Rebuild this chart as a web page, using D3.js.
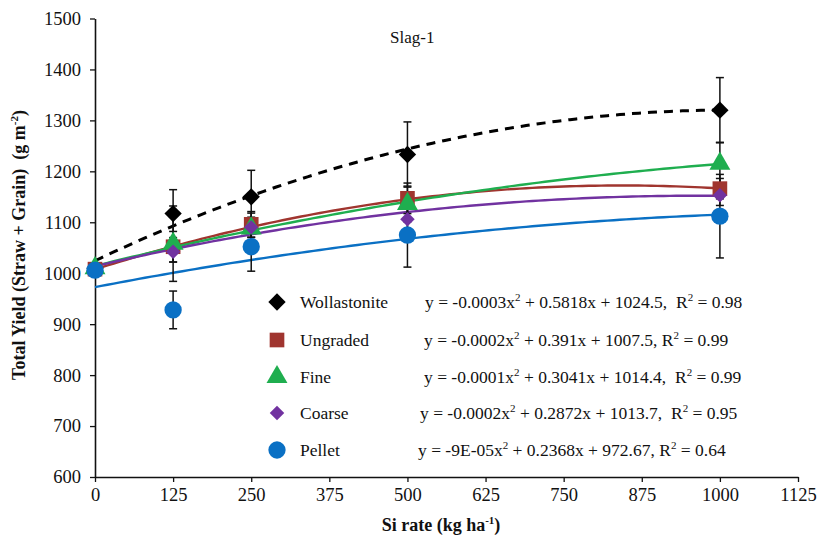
<!DOCTYPE html>
<html>
<head>
<meta charset="utf-8">
<script src="https://cdn.jsdelivr.net/npm/d3@7"></script>
<style>
  body { margin: 0; background: #fff; }
  svg text { font-family: "Liberation Serif", "Times New Roman", serif !important; fill: #111; }
</style>
</head>
<body>
<div id="chart"></div>
<script>
// values
var rates = [0, 125, 250, 500, 1000];
var names = ["Wollastonite", "Ungraded", "Fine", "Coarse", "Pellet"];
var wollastonite = [1010, 1117, 1150, 1233, 1320];
var ungraded = [1008, 1052, 1096, 1147, 1166];
var fine = [1010, 1058, 1088, 1136, 1215];
var coarse = [1008, 1042, 1090, 1106, 1153];
var pellet = [1006, 928, 1052, 1075, 1112];
var errWollastonite = [8, 47, 52, 64, 64];
var errUngraded = [6, 30, 25, 30, 20];
var errFine = [6, 74, 30, 35, 42];
var errCoarse = [6, 20, 20, 30, 20];
var errPellet = [8, 37, 48, 63, 82];
// trendline coefficients [a, b, c] as drawn (printed ones are rounded)
var fits = [
  [-0.000286, 0.5818, 1024.5],
  [-0.000232, 0.391, 1007.5],
  [-0.000104, 0.3041, 1014.4],
  [-0.000149, 0.2872, 1013.7],
  [-0.0000945, 0.2368, 972.67]
];
var equations = [
  ["y = -0.0003x", "2", " + 0.5818x + 1024.5,  R", "2", " = 0.98"],
  ["y = -0.0002x", "2", " + 0.391x + 1007.5, R", "2", " = 0.99"],
  ["y = -0.0001x", "2", " + 0.3041x + 1014.4,  R", "2", " = 0.99"],
  ["y = -0.0002x", "2", " + 0.2872x + 1013.7,  R", "2", " = 0.95"],
  ["y = -9E-05x", "2", " + 0.2368x + 972.67, R", "2", " = 0.64"]
];
var xTicks = [0, 125, 250, 375, 500, 625, 750, 875, 1000, 1125];
var yTicks = [600, 700, 800, 900, 1000, 1100, 1200, 1300, 1400, 1500];

var colors = ["#000000", "#a0352f", "#1fae4f", "#7132a0", "#0a70c4"];
var shapes = [d3.symbolSquare, d3.symbolSquare, d3.symbolTriangle, d3.symbolSquare, d3.symbolCircle];
var sizes = [150, 215, 190, 105, 235];
var rotated = [true, false, false, true, false];

var series = [wollastonite, ungraded, fine, coarse, pellet];
var errors = [errWollastonite, errUngraded, errFine, errCoarse, errPellet];

var width = 820, height = 543;
var margin = {left: 95, top: 18.5, right: 22, bottom: 66};

var svg = d3.select("#chart").append("svg")
  .attr("width", width)
  .attr("height", height)
  .attr("font-family", "Liberation Serif");

var x = d3.scaleLinear().domain([0, 1125]).range([margin.left, width - margin.right]);
var y = d3.scaleLinear().domain([600, 1500]).range([height - margin.bottom, margin.top]);

// axes
var xAxis = svg.append("g")
  .attr("transform", "translate(0," + y(600) + ")")
  .call(d3.axisBottom(x).tickValues(xTicks).tickFormat(d3.format("d")).tickSize(5).tickSizeOuter(0).tickPadding(6));
var yAxis = svg.append("g")
  .attr("transform", "translate(" + x(0) + ",0)")
  .call(d3.axisLeft(y).tickValues(yTicks).tickFormat(d3.format("d")).tickSize(5).tickSizeOuter(0).tickPadding(9));

[xAxis, yAxis].forEach(function(a) {
  a.attr("font-family", "Liberation Serif");
  a.select(".domain").attr("stroke", "#111").attr("stroke-width", 1.6);
  a.selectAll(".tick line").attr("stroke", "#111").attr("stroke-width", 1.3);
  a.selectAll(".tick text").style("font-size", "18.5px").attr("fill", "#222");
});

// axis titles
var yt = svg.append("text")
  .attr("transform", "translate(25,245) rotate(-90)")
  .attr("text-anchor", "middle")
  .style("font-size", "18px")
  .style("font-weight", "bold")
  .attr("xml:space", "preserve");
yt.append("tspan").text("Total Yield (Straw + Grain)  (g m");
yt.append("tspan").attr("dy", -7).style("font-size", "11px").text("-2");
yt.append("tspan").attr("dy", 7).text(")");

var xt = svg.append("text")
  .attr("x", 441)
  .attr("y", 531)
  .attr("text-anchor", "middle")
  .style("font-size", "18px")
  .style("font-weight", "bold");
xt.append("tspan").text("Si rate (kg ha");
xt.append("tspan").attr("dy", -7).style("font-size", "11px").text("-1");
xt.append("tspan").attr("dy", 7).text(")");

svg.append("text")
  .attr("x", 390)
  .attr("y", 43)
  .style("font-size", "17px")
  .text("Slag-1");

// trendlines
var curveX = d3.range(0, 1001, 10);
series.forEach(function(s, i) {
  var f = fits[i];
  var line = d3.line()
    .x(function(d) { return x(d); })
    .y(function(d) { return y(f[0] * d * d + f[1] * d + f[2]); });
  svg.append("path")
    .datum(curveX)
    .attr("d", line)
    .attr("fill", "none")
    .attr("stroke", colors[i])
    .attr("stroke-width", i === 0 ? 3 : 2.4)
    .attr("stroke-dasharray", i === 0 ? "9,7" : null);
});

// error bars
series.forEach(function(s, i) {
  var g = svg.append("g");
  s.forEach(function(v, j) {
    var e = errors[i][j];
    var cx = x(rates[j]);
    g.append("line").attr("x1", cx).attr("x2", cx).attr("y1", y(v - e)).attr("y2", y(v + e))
      .attr("stroke", "#111").attr("stroke-width", 1.5);
    [v - e, v + e].forEach(function(t) {
      g.append("line").attr("x1", cx - 4).attr("x2", cx + 4).attr("y1", y(t)).attr("y2", y(t))
        .attr("stroke", "#111").attr("stroke-width", 1.5);
    });
  });
});

// markers
function markerTransform(px, py, i) {
  return "translate(" + px + "," + py + ")" + (rotated[i] ? " rotate(45)" : "");
}
series.forEach(function(s, i) {
  svg.append("g").selectAll("path")
    .data(s)
    .enter()
    .append("path")
    .attr("d", d3.symbol().type(shapes[i]).size(sizes[i]))
    .attr("transform", function(d, j) { return markerTransform(x(rates[j]), y(d), i); })
    .attr("fill", colors[i]);
});

// legend
var rows = [302, 340, 377, 413, 450];
var eqX = [425, 424, 424, 420, 418];
names.forEach(function(n, i) {
  svg.append("path")
    .attr("d", d3.symbol().type(shapes[i]).size(sizes[i]))
    .attr("transform", markerTransform(277, rows[i], i))
    .attr("fill", colors[i]);
  svg.append("text")
    .attr("x", 300)
    .attr("y", rows[i] + 6)
    .style("font-size", "17.5px")
    .text(n);
  var t = svg.append("text")
    .attr("x", eqX[i])
    .attr("y", rows[i] + 6)
    .style("font-size", "17.5px")
    .attr("xml:space", "preserve");
  var parts = equations[i];
  t.append("tspan").text(parts[0]);
  t.append("tspan").attr("dy", -7).style("font-size", "11px").text(parts[1]);
  t.append("tspan").attr("dy", 7).text(parts[2]);
  t.append("tspan").attr("dy", -7).style("font-size", "11px").text(parts[3]);
  t.append("tspan").attr("dy", 7).text(parts[4]);
});
</script>
</body>
</html>
